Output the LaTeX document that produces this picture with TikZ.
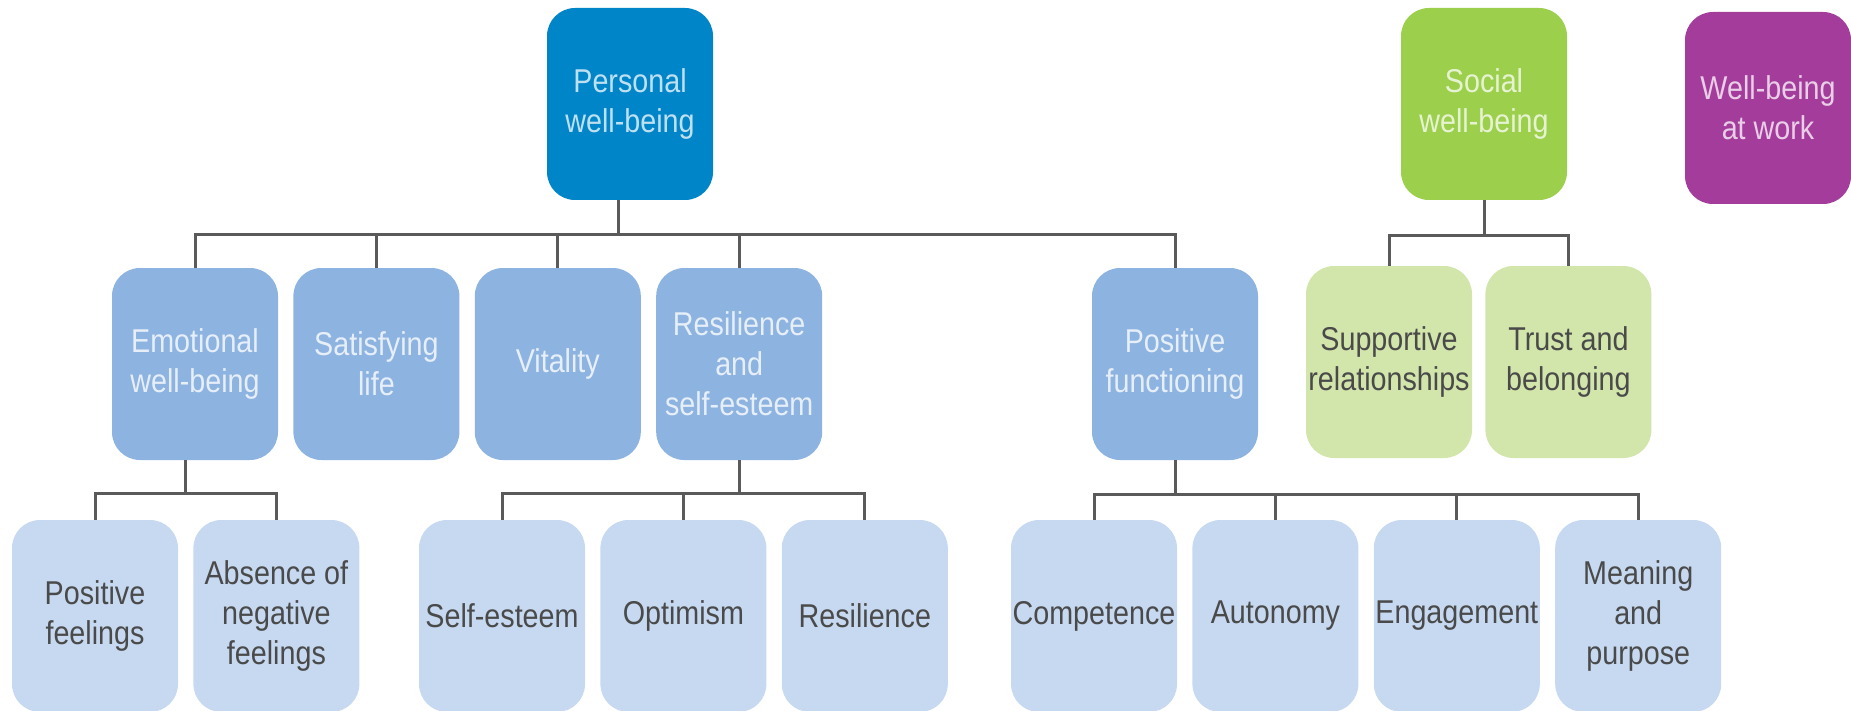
\documentclass[tikz,border=0pt]{standalone}
\usepackage{fontspec}
\setmainfont{Liberation Sans}[FakeStretch=0.87]
\usepackage{xcolor}
\usepackage{tikz}
\usetikzlibrary{positioning}

\definecolor{pwbblue}{HTML}{0085C8}
\definecolor{midblue}{HTML}{8DB3E1}
\definecolor{paleblue}{HTML}{C6D9F0}
\definecolor{swbgreen}{HTML}{9CCF4C}
\definecolor{palegreen}{HTML}{D2E6AC}
\definecolor{workpurple}{HTML}{A43C9C}
\definecolor{linkgrey}{HTML}{5A5A5A}
\definecolor{labelgrey}{HTML}{4A4A4A}

\begin{document}
\begin{tikzpicture}[x=1pt, y=-1pt, node distance=15pt,
    box/.style={rectangle, rounded corners=28pt, minimum width=166pt, minimum height=192pt, inner sep=0pt, align=center, font=\fontsize{33}{40}\selectfont},
    headbox/.style={box, fill=#1, text=white!75!#1},
    midbox/.style={box, fill=midblue, text=white!78!midblue},
    leafbox/.style={box, fill=paleblue, text=labelgrey},
    socialbox/.style={box, fill=palegreen, text=labelgrey},
    link/.style={draw=linkgrey, line width=3pt}]

    \useasboundingbox (0,0) rectangle (1851,711);

    % top row
    \node (personal) [headbox=pwbblue] at (630,104) {Personal\\well-being};
    \node (social) [headbox=swbgreen] at (1484,104) {Social\\well-being};
    \node (work) [headbox=workpurple] at (1768,108) {Well-being\\at work};

    % second row
    \node (emotional) [midbox] at (195,364) {Emotional\\well-being};
    \node (satisfying) [midbox, right=of emotional] {Satisfying\\life};
    \node (vitality) [midbox, right=of satisfying] {Vitality};
    \node (resilience) [midbox, right=of vitality] {Resilience\\and\\self-esteem};
    \node (functioning) [midbox] at (1175,364) {Positive\\functioning};
    \node (supportive) [socialbox] at (1389,362) {Supportive\\relationships};
    \node (trust) [socialbox, right=13pt of supportive] {Trust and\\belonging};

    % third row
    \node (posfeel) [leafbox] at (95,616) {Positive\\feelings};
    \node (absence) [leafbox, right=of posfeel] {Absence of\\negative\\feelings};
    \node (selfesteem) [leafbox] at (502,616) {Self-esteem};
    \node (optimism) [leafbox, right=of selfesteem] {Optimism};
    \node (resil) [leafbox, right=of optimism] {Resilience};
    \node (competence) [leafbox] at (1094,616) {Competence};
    \node (autonomy) [leafbox, right=of competence] {Autonomy};
    \node (engagement) [leafbox, right=of autonomy] {Engagement};
    \node (meaning) [leafbox, right=of engagement] {Meaning\\and\\purpose};

    % tree links
    \foreach \kid in {emotional,satisfying,vitality,resilience,functioning}
        \draw [link] ([xshift=-12pt]personal.south) -- ++(0,34) -| (\kid.north);
    \foreach \kid in {supportive,trust}
        \draw [link] (social.south) -- ++(0,35) -| (\kid.north);
    \foreach \kid in {posfeel,absence}
        \draw [link] ([xshift=-10pt]emotional.south) -- ++(0,33) -| (\kid.north);
    \foreach \kid in {selfesteem,optimism,resil}
        \draw [link] (resilience.south) -- ++(0,33) -| (\kid.north);
    \foreach \kid in {competence,autonomy,engagement,meaning}
        \draw [link] (functioning.south) -- ++(0,34) -| (\kid.north);

\end{tikzpicture}
\end{document}
